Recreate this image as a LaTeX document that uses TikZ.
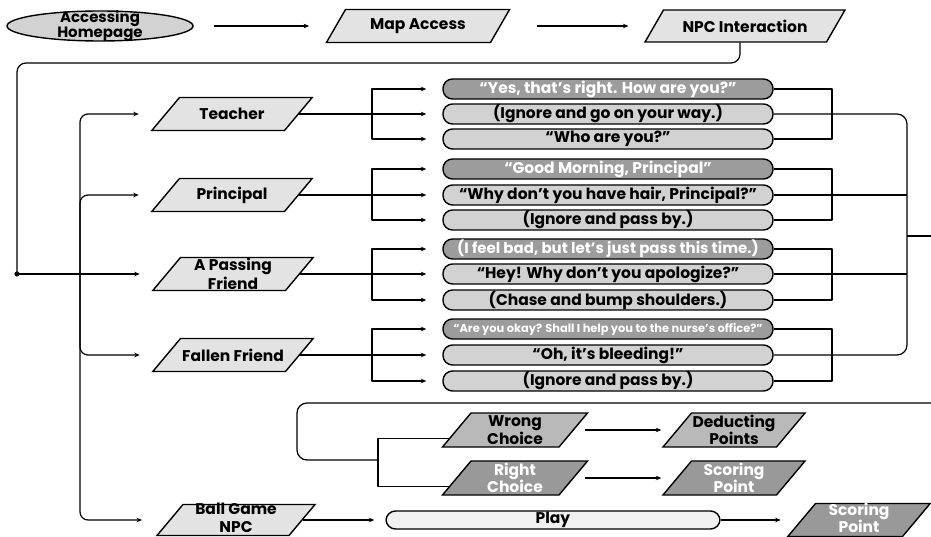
\documentclass[tikz,border=0pt]{standalone}
\usepackage{fontspec}
\setmainfont{Poppins}
\usetikzlibrary{shapes.geometric,arrows.meta}
\begin{document}
\begin{tikzpicture}[x=1pt,y=-1pt,
  conn/.style={line width=1.2pt, line join=round},
  arr/.style={conn,-{Stealth[length=5.5pt,width=4.5pt]}},
  txt/.style={font=\bfseries\fontsize{15.5}{15.5}\selectfont, align=center, inner sep=0pt},
  txtw/.style={txt, text=white},
  pg/.style={draw, line width=1.4pt, trapezium, trapezium left angle=50, trapezium right angle=130,
    inner sep=0pt, fill=gray!22},
  pgtop/.style={pg, trapezium left angle=60, trapezium right angle=120},
  pgmid/.style={pg, fill=gray!55},
  pgdark/.style={pg, fill=gray!80},
  dims/.style n args={2}{text width=#1, text height=#2, text depth=#2},
  opt/.style={draw, line width=1.4pt, rounded corners=9.5pt, minimum width=330pt, minimum height=20pt,
    inner sep=0pt, font=\bfseries\fontsize{15.5}{15.5}\selectfont},
  optL/.style={opt, fill=gray!35},
  optD/.style={opt, fill=gray!78, text=white},
]
\useasboundingbox (0,0) rectangle (931,537);

% top row
\node[draw, ellipse, line width=1.4pt, fill=gray!35, minimum width=186pt, minimum height=30pt,
  inner sep=0pt, label={[txt, font=\bfseries\fontsize{15}{15}\selectfont]center:Accessing\\Homepage}] (home) at (100,26) {};
\node[pgtop, dims={145pt}{16.5pt}, label={[txt]center:Map Access}] (map) at (418,26) {};
\node[pgtop, dims={163pt}{16pt}, label={[txt]center:NPC Interaction}] (npc) at (745,26) {};

% NPCs
\node[pg, dims={105pt}{16.5pt}, label={[txt]center:Teacher}] (teacher) at (232,114) {};
\node[pg, dims={105pt}{16.5pt}, label={[txt]center:Principal}] (principal) at (232,195) {};
\node[pg, dims={105pt}{16.5pt}, label={[txt, font=\bfseries\fontsize{15.5}{19}\selectfont]center:A Passing\\Friend}] (passing) at (233,274) {};
\node[pg, dims={105pt}{16.5pt}, label={[txt]center:Fallen Friend}] (fallen) at (233,355) {};
\node[pg, dims={106pt}{15.5pt}, label={[txt, font=\bfseries\fontsize{15.5}{18}\selectfont, yshift=2.5pt]center:Ball Game\\NPC}] (ball) at (236,520) {};

% options
\node[optD] (t1) at (608,89) {“Yes, that’s right. How are you?”};
\node[optL] (t2) at (608,114) {(Ignore and go on your way.)};
\node[optL] (t3) at (608,139) {“Who are you?”};
\node[optD] (p1) at (608,169) {“Good Morning, Principal”};
\node[optL] (p2) at (608,195) {“Why don’t you have hair, Principal?”};
\node[optL] (p3) at (608,220) {(Ignore and pass by.)};
\node[optD, font=\bfseries\fontsize{15}{15}\selectfont] (a1) at (608,249) {(I feel bad, but let’s just pass this time.)};
\node[optL] (a2) at (608,274) {“Hey! Why don’t you apologize?”};
\node[optL] (a3) at (608,300) {(Chase and bump shoulders.)};
\node[optD, font=\bfseries\fontsize{11.4}{11.4}\selectfont] (f1) at (608,329) {“Are you okay? Shall I help you to the nurse’s office?”};
\node[optL] (f2) at (608,355) {“Oh, it’s bleeding!”};
\node[optL] (f3) at (608,381) {(Ignore and pass by.)};

% choices
\node[pgmid, dims={88pt}{17pt}, label={[txt, font=\bfseries\fontsize{15.5}{16.5}\selectfont]center:Wrong\\Choice}] (wrong) at (515,430) {};
\node[pgdark, dims={88pt}{17pt}, label={[txtw, font=\bfseries\fontsize{15.5}{16.5}\selectfont]center:Right\\Choice}] (right) at (515,478) {};
\node[pgmid, dims={85pt}{17pt}, label={[txt, font=\bfseries\fontsize{15.5}{16}\selectfont]center:Deducting\\Points}] (deduct) at (734,430) {};
\node[pgdark, dims={85pt}{17pt}, label={[txtw, font=\bfseries\fontsize{15.5}{16}\selectfont]center:Scoring\\Point}] (score1) at (734,478) {};
\node[opt, fill=gray!12, minimum width=334pt, minimum height=18pt] (play) at (553,520) {Play};
\node[pgdark, dims={87pt}{16.5pt}, label={[txtw, font=\bfseries\fontsize{15.5}{15}\selectfont, yshift=2pt]center:Scoring\\Point}] (score2) at (859,520) {};

% top arrows
\draw[arr, shorten <=20pt, shorten >=26pt] (home.east) -- (map.west);
\draw[arr, shorten <=36pt, shorten >=25pt] (map.east) -- (npc.west);

% loop back to NPC list
\coordinate (dot) at (17,274);
\coordinate (hub) at (80,274);
\coordinate (loopy) at (0,63);
\draw[conn, rounded corners=9pt] ([xshift=-5pt]npc.south) |- (dot |- loopy) -- (dot);
\fill (dot) circle (2.6pt);
\draw[arr, shorten >=26pt] (dot) -- (passing.west);
\draw[arr, rounded corners=8pt, shorten >=26pt] (hub) |- (teacher.west);
\draw[arr, rounded corners=8pt, shorten >=26pt] (hub) |- (principal.west);
\draw[arr, rounded corners=8pt, shorten >=26pt] (hub) |- (fallen.west);
\draw[arr, rounded corners=8pt, shorten >=27pt] (hub) |- (ball.west);

% NPC to options
\foreach \n/\g/\y in {teacher/t/114, principal/p/195, passing/a/274, fallen/f/355}{
  \coordinate (\g lb) at (372,\y);
  \coordinate (\g rb) at (832,\y);
  \draw[arr, shorten >=16pt] (\n.east) -- (\g2.west);
  \draw[arr, shorten >=16pt] (\g lb) |- (\g1.west);
  \draw[arr, shorten >=16pt] (\g lb) |- (\g3.west);
  \draw[conn] (\g1.east) -| (\g rb) |- (\g3.east);
}

% big bracket on the right
\coordinate (bb) at (907,236);
\coordinate (outR) at (931,236);
\draw[conn, rounded corners=10pt] (t2.east) -| (bb) |- (f2.east);
\draw[conn] (p2.east) -- (p2.east -| bb);
\draw[conn] (a2.east) -- (a2.east -| bb);
\draw[conn] (bb) -- (outR);

% bottom loop to choices
\coordinate (inR) at (931,403);
\coordinate (lc) at (297,430);
\coordinate (ch) at (378,460);
\draw[conn, rounded corners=10pt] (inR) -| (lc) |- (ch);
\draw[conn] (ch) |- (wrong.187);
\draw[conn] (ch) |- (right.187);
\draw[arr, shorten <=11pt, shorten >=15pt] (wrong.east) -- (deduct.west);
\draw[arr, shorten <=11pt, shorten >=15pt] (right.east) -- (score1.west);
\draw[arr, shorten >=11pt] (ball.east) -- (play.west);
\draw[arr, shorten >=20pt] (play.east) -- (score2.west);
\end{tikzpicture}
\end{document}
